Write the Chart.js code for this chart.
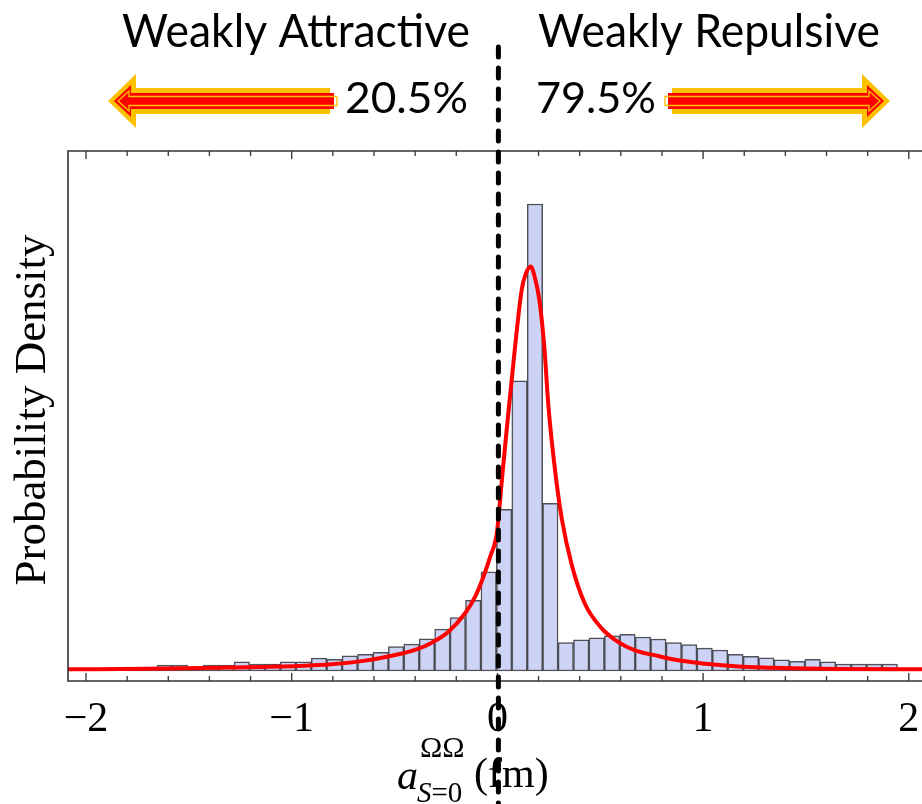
<!DOCTYPE html>
<html>
<head>
<meta charset="utf-8">
<script src="https://cdn.jsdelivr.net/npm/chart.js@4/dist/chart.umd.min.js"></script>
<style>
  html, body { margin: 0; padding: 0; background: #fff; overflow: hidden; }
  #wrap { position: relative; width: 945px; height: 804px; }
</style>
</head>
<body>
<div id="wrap"><canvas id="hist-canvas"></canvas></div>
<script>
// histogram bin edges (fm)
const BIN_EDGES = [-1.805, -1.73, -1.655, -1.58, -1.505, -1.43, -1.355, -1.28, -1.205, -1.13,
  -1.055, -0.98, -0.905, -0.83, -0.755, -0.68, -0.605, -0.53, -0.455, -0.38,
  -0.305, -0.23, -0.155, -0.08, -0.005, 0.07, 0.145, 0.22, 0.295, 0.37,
  0.445, 0.52, 0.595, 0.67, 0.745, 0.82, 0.895, 0.97, 1.045, 1.12,
  1.195, 1.27, 1.345, 1.42, 1.495, 1.57, 1.645, 1.72, 1.795, 1.87, 1.945]
// probability density of each bin
const DENSITY = [0.022, 0.022, 0.039, 0.039, 0.026, 0.039, 0.039, 0.061, 0.046, 0.046,
  0.061, 0.061, 0.085, 0.077, 0.099, 0.110, 0.123, 0.161, 0.176, 0.211,
  0.275, 0.350, 0.464, 0.652, 1.062, 1.905, 3.067, 1.101, 0.187, 0.204,
  0.218, 0.231, 0.240, 0.223, 0.210, 0.187, 0.174, 0.150, 0.138, 0.110,
  0.097, 0.087, 0.074, 0.064, 0.077, 0.060, 0.046, 0.045, 0.045, 0.046]
// fitted curve
const FIT_X = [-2.095, -1.697, -1.308, -0.967, -0.806, -0.643, -0.481, -0.400, -0.319, -0.238,
  -0.157, -0.108, -0.068, -0.035, -0.003, 0.024, 0.053, 0.086, 0.118, 0.136,
  0.162, 0.185, 0.204, 0.228, 0.248, 0.281, 0.313, 0.361, 0.426, 0.507,
  0.588, 0.669, 0.783, 0.880, 1.010, 1.172, 1.334, 1.496, 1.658, 2.180]
const FIT_Y = [0.011, 0.014, 0.023, 0.033, 0.044, 0.068, 0.110, 0.138, 0.186, 0.258,
  0.379, 0.488, 0.619, 0.751, 0.904, 1.287, 1.693, 2.130, 2.502, 2.601,
  2.656, 2.568, 2.437, 2.130, 1.740, 1.310, 1.000, 0.700, 0.440, 0.280,
  0.190, 0.136, 0.098, 0.070, 0.048, 0.030, 0.022, 0.016, 0.013, 0.011]

const X_MAJOR = [-2, -1, 0, 1, 2]
const X_MINOR = [-1.8, -1.6, -1.4, -1.2, -0.8, -0.6, -0.4, -0.2, 0.2, 0.4, 0.6, 0.8, 1.2, 1.4, 1.6, 1.8]
const SIDE_LABELS = ['Weakly Attractive', 'Weakly Repulsive']
const SIDE_SHARES = ['20.5%', '79.5%']
const Y_TITLE = 'Probability Density'

const SERIF = '"Liberation Serif", "Times New Roman", serif'
const SANS = 'Lato, "Open Sans", sans-serif'
const YELLOW = '#FFC000'
const RED = '#FF0000'

const barPoints = DENSITY.map((d, i) => ({x: (BIN_EDGES[i] + BIN_EDGES[i + 1]) / 2, y: d}))
const fitPoints = FIT_X.map((x, i) => ({x: x, y: FIT_Y[i]}))

function arrowPath(ctx, tail, tip, cy, shaftH, headH, headL){
  const dir = Math.sign(tip - tail)
  ctx.beginPath()
  ctx.moveTo(tail, cy - shaftH)
  ctx.lineTo(tip - dir * headL, cy - shaftH)
  ctx.lineTo(tip - dir * headL, cy - headH)
  ctx.lineTo(tip, cy)
  ctx.lineTo(tip - dir * headL, cy + headH)
  ctx.lineTo(tip - dir * headL, cy + shaftH)
  ctx.lineTo(tail, cy + shaftH)
  ctx.closePath()
}

function drawArrow(ctx, tail, tip, cy){
  const dir = Math.sign(tip - tail)
  arrowPath(ctx, tail, tip, cy, 13, 27, 28)
  ctx.fillStyle = YELLOW
  ctx.fill()
  arrowPath(ctx, tail - dir * 4, tip - dir * 6, cy, 8, 16, 17)
  ctx.fillStyle = RED
  ctx.fill()
  arrowPath(ctx, tail - dir * 7, tip - dir * 10, cy, 4.5, 10, 11)
  ctx.strokeStyle = YELLOW
  ctx.lineWidth = 1.3
  ctx.stroke()
}

// text squeezed to a given width (narrow sans face)
function fitText(ctx, text, size, left, right, baseline){
  ctx.font = size + 'px ' + SANS
  const w = ctx.measureText(text).width
  ctx.save()
  ctx.translate(left, baseline)
  ctx.scale((right - left) / w, 1)
  ctx.textAlign = 'left'
  ctx.textBaseline = 'alphabetic'
  ctx.fillText(text, 0, 0)
  ctx.restore()
}

const decorPlugin = {
  id: 'decor',
  afterDatasetsDraw(chart){
    const ctx = chart.ctx
    const area = chart.chartArea
    const xs = chart.scales.x
    ctx.save()
    // frame
    ctx.strokeStyle = '#333'
    ctx.lineWidth = 1.6
    ctx.beginPath()
    ctx.moveTo(area.right + 5, area.top)
    ctx.lineTo(area.left, area.top)
    ctx.lineTo(area.left, area.bottom)
    ctx.lineTo(area.right + 5, area.bottom)
    ctx.stroke()
    // inward ticks top and bottom
    ctx.lineWidth = 1.3
    const tick = (v, len) => {
      const px = xs.getPixelForValue(v)
      ctx.beginPath()
      ctx.moveTo(px, area.bottom)
      ctx.lineTo(px, area.bottom - len)
      ctx.moveTo(px, area.top)
      ctx.lineTo(px, area.top + len)
      ctx.stroke()
    }
    X_MAJOR.forEach(v => tick(v, 8))
    X_MINOR.forEach(v => tick(v, 5))

    ctx.fillStyle = '#000'
    // y title
    ctx.save()
    ctx.translate(33, (area.top + area.bottom) / 2 - 6)
    ctx.rotate(-Math.PI / 2)
    ctx.font = '45px ' + SERIF
    ctx.textAlign = 'center'
    ctx.textBaseline = 'middle'
    ctx.fillText(Y_TITLE, 0, 0)
    ctx.restore()

    // x title: a^{ΩΩ}_{S=0} (fm)
    const base = 789
    let x = 397
    ctx.textAlign = 'left'
    ctx.textBaseline = 'alphabetic'
    ctx.font = 'italic 42px ' + SERIF
    ctx.fillText('a', x, base)
    x += ctx.measureText('a').width + 2
    ctx.font = '30px ' + SERIF
    ctx.fillText('ΩΩ', x, base - 32)
    ctx.font = 'italic 29px ' + SERIF
    ctx.fillText('S', x - 3, base + 13)
    const sW = ctx.measureText('S').width
    ctx.font = '29px ' + SERIF
    ctx.fillText('=0', x - 3 + sW, base + 13)
    ctx.font = '42px ' + SERIF
    ctx.fillText('(fm)', 474, base - 2)

    // headings and arrows
    fitText(ctx, SIDE_LABELS[0], 46, 122, 470, 47)
    fitText(ctx, SIDE_LABELS[1], 46, 538, 880, 47)
    fitText(ctx, SIDE_SHARES[0], 42, 345, 468, 113)
    fitText(ctx, SIDE_SHARES[1], 42, 536, 656, 113)
    drawArrow(ctx, 330, 108, 101)
    drawArrow(ctx, 672, 890, 101)

    // dashed zero line
    const zx = xs.getPixelForValue(0) + 1
    ctx.strokeStyle = '#000'
    ctx.lineWidth = 5
    ctx.lineCap = 'round'
    ctx.setLineDash([10, 11])
    ctx.beginPath()
    ctx.moveTo(zx, 47)
    ctx.lineTo(zx, 804)
    ctx.stroke()
    ctx.restore()
  }
}

new Chart(document.getElementById('hist-canvas'), {
  type: 'bar',
  data: {
    datasets: [{
      type: 'line',
      label: 'fit',
      data: fitPoints,
      borderColor: RED,
      borderWidth: 4,
      pointRadius: 0,
      cubicInterpolationMode: 'monotone',
      fill: false,
      order: 0
    }, {
      type: 'bar',
      label: 'histogram',
      data: barPoints,
      backgroundColor: 'rgb(204,211,245)',
      borderColor: 'rgba(50,50,60,0.85)',
      borderWidth: 1.5,
      borderSkipped: false,
      barPercentage: 1.0,
      categoryPercentage: 1.0,
      order: 1
    }]
  },
  options: {
    responsive: true,
    maintainAspectRatio: false,
    animation: false,
    layout: {padding: {top: 151, left: 0, right: 0, bottom: 0}},
    plugins: {legend: {display: false}, tooltip: {enabled: false}},
    scales: {
      x: {
        type: 'linear',
        min: -2.0875,
        max: 2.176,
        offset: false,
        grid: {display: false, drawTicks: false},
        border: {display: false},
        ticks: {
          autoSkip: false,
          includeBounds: false,
          stepSize: 1,
          padding: 14,
          color: '#000',
          font: {family: SERIF, size: 42},
          callback: v => (v < 0 ? '\u2212' + Math.abs(v) : String(v))
        },
        afterFit: s => { s.height = 123 }
      },
      y: {
        min: -0.0657,
        max: 3.415,
        grid: {display: false},
        border: {display: false},
        ticks: {display: false},
        afterFit: s => { s.width = 68 }
      }
    }
  },
  plugins: [decorPlugin]
})
</script>
</body>
</html>
